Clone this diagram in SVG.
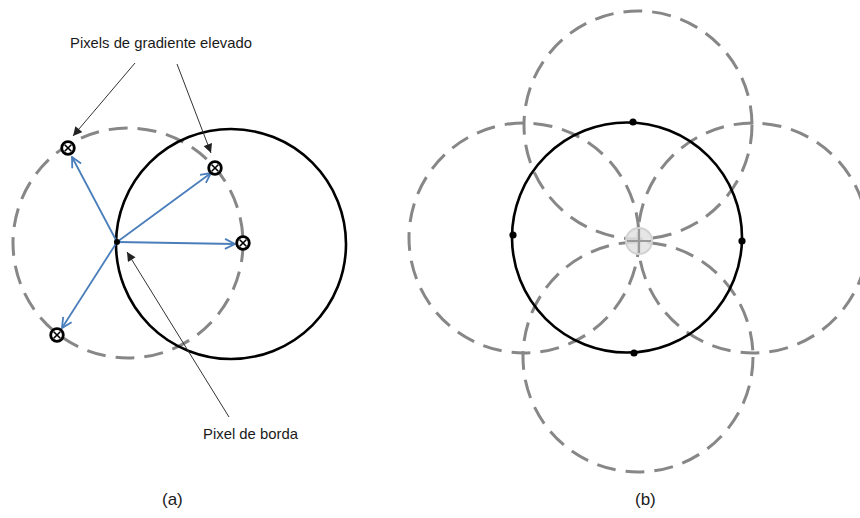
<svg xmlns="http://www.w3.org/2000/svg" width="860" height="518" viewBox="0 0 860 518">
<defs>
<style>
.dash{fill:none;stroke:#878787;stroke-width:3;stroke-dasharray:19 10}
.solid{fill:none;stroke:#000;stroke-width:2.6}
.blue{fill:none;stroke:#4a7ebb;stroke-width:1.8;marker-end:url(#openBlue)}
.ptr{fill:none;stroke:#333;stroke-width:1;marker-end:url(#fillBlack)}
.lbl{font-family:"Liberation Sans",Arial,sans-serif;font-size:14.5px;fill:#1a1a1a}
.cap{font-family:"Liberation Sans",Arial,sans-serif;font-size:17px;fill:#1a1a1a}
.dot{fill:#000}
</style>
<marker id="openBlue" viewBox="0 0 12 12" refX="11" refY="6" markerWidth="12" markerHeight="12" markerUnits="userSpaceOnUse" orient="auto">
<path d="M1,1 L11,6 L1,11" fill="none" stroke="#4a7ebb" stroke-width="1.8"/>
</marker>
<marker id="fillBlack" viewBox="0 0 10 10" refX="10" refY="5" markerWidth="10" markerHeight="9" markerUnits="userSpaceOnUse" orient="auto">
<path d="M0,0 L10,5 L0,10 Z" fill="#222"/>
</marker>
<g id="otimes">
<circle cx="0" cy="0" r="6.3" fill="#fff" stroke="#000" stroke-width="2.8"/>
<path d="M-3.3,-3.3 L3.3,3.3 M-3.3,3.3 L3.3,-3.3" stroke="#000" stroke-width="1.6"/>
</g>
</defs>
<rect width="860" height="518" fill="#fff"/>

<!-- Panel (a) -->
<g id="a-dashed-circle"><circle class="dash" cx="128" cy="243" r="115"/></g>
<g id="a-solid-circle"><circle class="solid" cx="231" cy="244" r="115"/></g>

<g id="connectors">
<line class="blue" x1="117" y1="242" x2="72" y2="157"/>
<line class="blue" x1="117" y1="242" x2="211" y2="173"/>
<line class="blue" x1="117" y1="242" x2="235" y2="244"/>
<line class="blue" x1="117" y1="242" x2="62" y2="328"/>
<line class="ptr" x1="135" y1="63" x2="73" y2="136"/>
<line class="ptr" x1="177" y1="64" x2="211" y2="153"/>
<line class="ptr" x1="229" y1="417" x2="127" y2="252"/>
</g>

<g id="edge-pixel"><circle class="dot" cx="117" cy="242" r="3"/></g>
<g id="grad-1"><use href="#otimes" x="68" y="148"/></g>
<g id="grad-2"><use href="#otimes" x="215" y="168"/></g>
<g id="grad-3"><use href="#otimes" x="243" y="243"/></g>
<g id="grad-4"><use href="#otimes" x="57" y="335"/></g>

<g id="label-grad"><text class="lbl" x="70" y="48" textLength="182" lengthAdjust="spacingAndGlyphs">Pixels de gradiente elevado</text></g>
<g id="label-edge"><text class="lbl" x="203" y="439" textLength="95" lengthAdjust="spacingAndGlyphs">Pixel de borda</text></g>
<g id="caption-a"><text class="cap" x="162" y="505">(a)</text></g>

<!-- Panel (b) -->
<g id="b-dashed-top"><circle class="dash" cx="638" cy="125" r="114"/></g>
<g id="b-dashed-left"><circle class="dash" cx="524" cy="238" r="115"/></g>
<g id="b-dashed-right"><circle class="dash" cx="753" cy="238" r="115"/></g>
<g id="b-dashed-bottom"><circle class="dash" cx="638" cy="357" r="115"/></g>
<g id="b-solid-circle"><circle class="solid" cx="627" cy="237.5" r="115"/></g>
<g id="b-dot-top"><circle class="dot" cx="633" cy="122" r="3.6"/></g>
<g id="b-dot-bottom"><circle class="dot" cx="634" cy="353" r="3.6"/></g>
<g id="b-dot-left"><circle class="dot" cx="513" cy="235" r="3.6"/></g>
<g id="b-dot-right"><circle class="dot" cx="742" cy="241" r="3.6"/></g>
<g id="b-center">
<circle cx="639" cy="241" r="13" fill="#e2e2e2" fill-opacity="0.85" stroke="#d2d2d2" stroke-width="2"/>
<path d="M627,241 L651,241 M639,229 L639,253" stroke="#9a9a9a" stroke-width="2.2"/>
</g>
<g id="caption-b"><text class="cap" x="635" y="505">(b)</text></g>
</svg>
